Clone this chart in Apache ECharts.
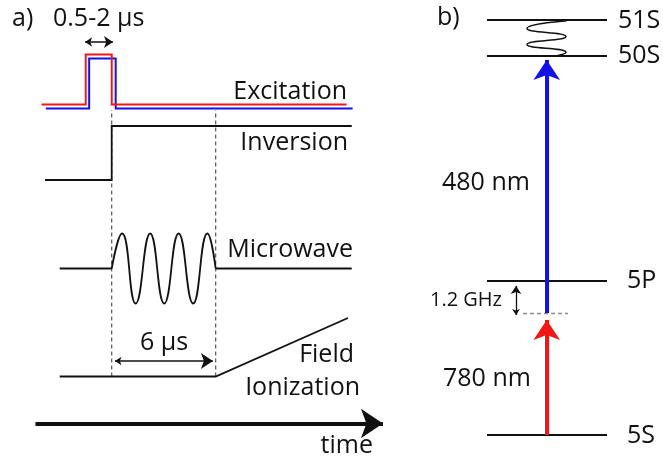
<!DOCTYPE html>
<html>
<head>
<meta charset="utf-8">
<script src="https://cdn.jsdelivr.net/npm/echarts@6/dist/echarts.min.js"></script>
<style>
  html, body { margin: 0; padding: 0; background: #fff; }
  #chart { width: 663px; height: 457px; }
</style>
</head>
<body>
<div id="chart"></div>
<script>
// ---------- a) pulse sequence: time in µs, signal in arbitrary units ----------
const excitationRed  = [[-4.05, 0], [-1.5, 0], [-1.5, 5], [0, 5], [0, 0], [13.55, 0]];
const excitationBlue = [[-3.8, 0], [-1.3, 0], [-1.3, 5], [0.23, 5], [0.23, 0], [13.9, 0]];
const inversion      = [[-3.85, 0], [0, 0], [0, 5.4], [13.85, 5.4]];
const microwaveIdle  = [[[-3.0, 0], [0, 0]], [[6.0, 0], [13.85, 0]]];
// burst: start, crests and troughs, end
const microwaveBurst = [[0, 0], [0.6, 3.5], [1.38, -3.5], [2.22, 3.5], [3.03, -3.5],
                        [3.86, 3.5], [4.7, -3.5], [5.52, 3.5], [6.0, 0]];
const fieldRamp      = [[-3.0, 0], [6.0, 0], [13.63, 5.85]];
const gateTimes      = [0, 6];            // dashed markers, µs
const pulseSpan      = [-1.535, 0.075];   // "0.5-2 µs" bracket
const waitSpan       = [0.19, 5.84];      // "6 µs" bracket
const timeSpan       = [-4.4, 15.65];

// ---------- b) level scheme: energy in schematic units ----------
const levelNames  = ['5S', '5P', '50S', '51S'];
const levelEnergy = [0, 15.4, 37.9, 41.5];
const virtualLevel = 12.15;               // 1.2 GHz below 5P
const redBeam  = [0, 11.5];               // 780 nm, from 5S to tip
const blueBeam = [12.2, 37.5];            // 480 nm, from virtual level to tip
const detuningSpan = [12.0, 14.9];
const mwSquiggle = [[7.97, 41.43], [4.0, 40.65], [7.9, 39.85], [4.0, 39.05], [7.9, 38.25], [6.9, 37.9]];

// vertical placement of the traces in panel a)
const OFF = { red: 33.55, blue: 33.15, inversion: 26.0, microwave: 17.15, field: 6.35, time: 1.65 };

const RED = '#f21616', BLUE = '#1212e8', INK = '#111111';
const FONT = '"Open Sans", "Noto Sans", sans-serif';

const shift = (d, o) => d.map(([x, y]) => [x, y + o]);

function trace(data, color, width, extra) {
  return Object.assign({
    type: 'line', xAxisIndex: 0, yAxisIndex: 0, data,
    symbol: 'none', showSymbol: false, silent: true, clip: false,
    lineStyle: { color, width, cap: 'butt', join: 'miter' }
  }, extra || {});
}

function panelLine(data, color, width, extra) {
  return Object.assign(trace(data, color, width), { xAxisIndex: 1, yAxisIndex: 1 }, extra || {});
}

// straight arrow drawn with a lines series; the head's point lands on the end coordinate
function arrow(axis, from, to, color, width, head, both) {
  return {
    type: 'lines', coordinateSystem: 'cartesian2d', xAxisIndex: axis, yAxisIndex: axis,
    silent: true, z: 5,
    symbol: [both ? 'arrow' : 'none', 'arrow'], symbolSize: head,
    lineStyle: { color, width, opacity: 1, curveness: 0 },
    data: [{ coords: [from, to] }]
  };
}

function label(text, x, baseline, align, size) {
  return {
    type: 'text', x, y: baseline - 0.36 * size, silent: true,
    style: { text, fill: INK, font: size + 'px ' + FONT, align, verticalAlign: 'middle' }
  };
}

const series = [];

// gate markers
gateTimes.forEach(t => series.push(trace([[t, OFF.field], [t, 33.0]], '#555', 1.2,
  { lineStyle: { color: '#555', width: 1.2, type: [4, 3] }, z: 1 })));

series.push(trace(shift(excitationBlue, OFF.blue), BLUE, 2));
series.push(trace(shift(excitationRed, OFF.red), RED, 2));
series.push(trace(shift(inversion, OFF.inversion), INK, 1.8));
microwaveIdle.forEach(seg => series.push(trace(shift(seg, OFF.microwave), INK, 1.8)));
series.push(trace(shift(microwaveBurst, OFF.microwave), INK, 1.8, { smooth: 0.5 }));
series.push(trace(shift(fieldRamp, OFF.field), INK, 1.8));

series.push(arrow(0, [pulseSpan[0], 39.8], [pulseSpan[1], 39.8], INK, 1.5, [7, 9], true));
series.push(arrow(0, [waitSpan[0], 7.9], [waitSpan[1], 7.9], INK, 1.5, [6.5, 12], true));
series.push(arrow(0, [timeSpan[0], OFF.time], [timeSpan[1], OFF.time], INK, 4, [16.5, 22], false));

// energy levels
levelEnergy.forEach(e => series.push(panelLine([[0, e], [12, e]], INK, 2)));
series.push(panelLine([[3.6, virtualLevel], [8.1, virtualLevel]], '#8a8a8a', 1.5,
  { lineStyle: { color: '#8a8a8a', width: 1.5, type: [4, 3] } }));
series.push(panelLine(mwSquiggle, INK, 1.5, { smooth: 0.6 }));

series.push(arrow(1, [5.97, redBeam[0]], [5.97, redBeam[1]], RED, 4, [16.5, 20], false));
series.push(arrow(1, [5.97, blueBeam[0]], [5.97, blueBeam[1]], BLUE, 4, [16, 20], false));
series.push(arrow(1, [2.9, detuningSpan[0]], [2.9, detuningSpan[1]], INK, 1.3, [6, 8], true));

const texts = [
  label('a)', 12, 28, 'left', 25),
  label('0.5-2 μs', 53, 28, 'left', 25),
  label('Excitation', 347, 101, 'right', 25),
  label('Inversion', 348, 152, 'right', 25),
  label('Microwave', 353, 259, 'right', 25),
  label('Field', 354, 364, 'right', 25),
  label('Ionization', 360, 397, 'right', 25),
  label('6 μs', 140, 352, 'left', 25),
  label('time', 373, 455, 'right', 25),
  label('b)', 437, 27, 'left', 25),
  label(levelNames[3], 618, 30, 'left', 25),
  label(levelNames[2], 618, 65, 'left', 25),
  label(levelNames[1], 627, 290, 'left', 25),
  label(levelNames[0], 627, 445, 'left', 25),
  label('480 nm', 442, 192, 'left', 25),
  label('780 nm', 443, 388, 'left', 25),
  label('1.2 GHz', 430, 307, 'left', 20)
];

const chart = echarts.init(document.getElementById('chart'), null, { renderer: 'canvas' });
chart.setOption({
  animation: false,
  backgroundColor: '#ffffff',
  grid: [
    { left: 33.7, top: 20, width: 355.3, height: 420 },
    { left: 487, top: 20, width: 120, height: 415 }
  ],
  xAxis: [
    { type: 'value', gridIndex: 0, min: -4.5, max: 16, show: false },
    { type: 'value', gridIndex: 1, min: 0, max: 12, show: false }
  ],
  yAxis: [
    { type: 'value', gridIndex: 0, min: 0, max: 42, show: false },
    { type: 'value', gridIndex: 1, min: 0, max: 41.5, show: false }
  ],
  series,
  graphic: texts
});
</script>
</body>
</html>
